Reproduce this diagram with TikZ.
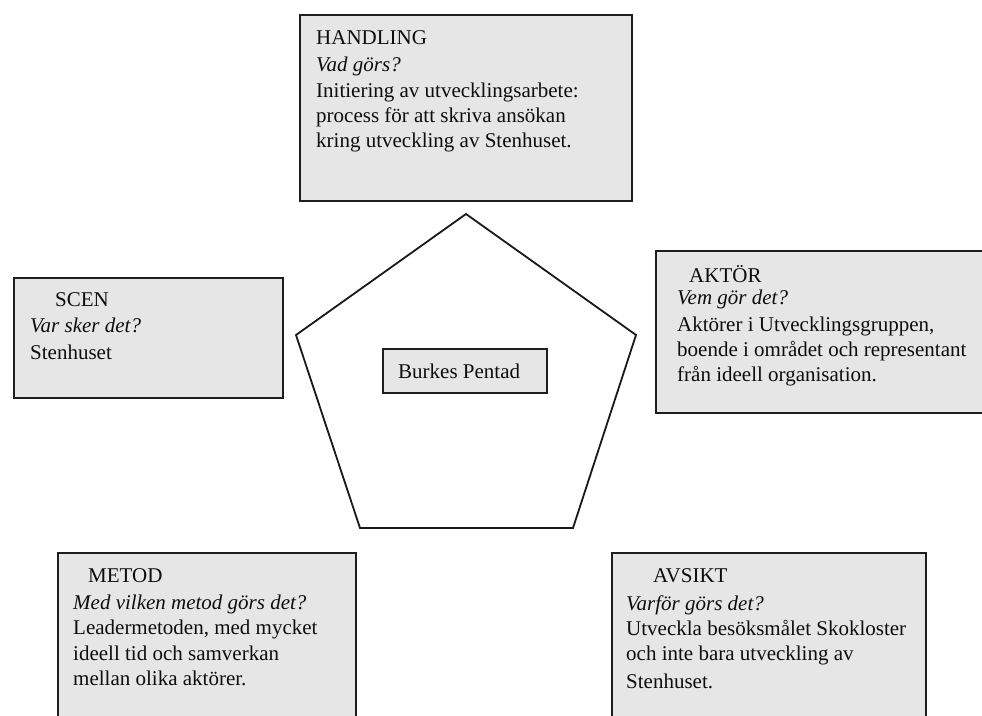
\documentclass[tikz,border=0pt]{standalone}
\usepackage{fontspec}
\setmainfont{Liberation Serif}
\definecolor{boxfill}{RGB}{230,230,230}
\definecolor{boxline}{RGB}{30,30,30}
\begin{document}
\begin{tikzpicture}[x=1pt,y=1pt,
  box/.style={draw=boxline,fill=boxfill,line width=1.8pt,inner sep=0pt,anchor=north west},
  txt/.style={anchor=base west,inner sep=0pt,font=\fontsize{21}{25}\selectfont,text=black!95},
  itx/.style={txt,font=\fontsize{21}{25}\selectfont\itshape}]
\useasboundingbox (0,0) rectangle (982,715);
\clip (0,0) rectangle (982,715);
\fill[white] (0,0) rectangle (982,715);
% boxes
\node[box,minimum width=332pt,minimum height=186pt] (handling) at (299,701) {};
\node[box,minimum width=269pt,minimum height=120pt] (scen) at (13,438) {};
\node[box,minimum width=340pt,minimum height=162pt] (aktor) at (655,465) {};
\node[box,minimum width=298pt,minimum height=180pt] (metod) at (57,163) {};
\node[box,minimum width=314pt,minimum height=180pt] (avsikt) at (611,163) {};
% pentagon
\coordinate (p1) at (466,501);
\coordinate (p2) at (636,380);
\coordinate (p3) at (573,187);
\coordinate (p4) at (360,187);
\coordinate (p5) at (296,380);
\draw[line width=1.8pt,draw=black!90,line join=miter] (p1) -- (p2) -- (p3) -- (p4) -- (p5) -- cycle;
\node[box,minimum width=164pt,minimum height=44pt] (burke) at (382,367) {};
\node[txt] (burketxt) at (398,336) {Burkes Pentad};
% HANDLING
\node[txt] (h1) at (316,670) {HANDLING};
\node[itx] (h2) at (316,643) {Vad görs?};
\node[txt] (h3) at (316,617) {Initiering av utvecklingsarbete:};
\node[txt] (h4) at (316,592) {process för att skriva ansökan};
\node[txt] (h5) at (316,567) {kring utveckling av Stenhuset.};
% SCEN
\node[txt] (s1) at (55,408) {SCEN};
\node[itx] (s2) at (30,382) {Var sker det?};
\node[txt] (s3) at (30,355) {Stenhuset};
% AKTOR
\node[txt] (a1) at (689,432) {AKTÖR};
\node[itx] (a2) at (677,410) {Vem gör det?};
\node[txt] (a3) at (677,383) {Aktörer i Utvecklingsgruppen,};
\node[txt] (a4) at (677,358) {boende i området och representant};
\node[txt] (a5) at (677,333) {från ideell organisation.};
% METOD
\node[txt] (m1) at (88,133) {METOD};
\node[itx] (m2) at (73,106) {Med vilken metod görs det?};
\node[txt] (m3) at (73,81) {Leadermetoden, med mycket};
\node[txt] (m4) at (73,55) {ideell tid och samverkan};
\node[txt] (m5) at (73,30) {mellan olika aktörer.};
% AVSIKT
\node[txt] (v1) at (653,132) {AVSIKT};
\node[itx] (v2) at (626,105) {Varför görs det?};
\node[txt] (v3) at (626,80) {Utveckla besöksmålet Skokloster};
\node[txt] (v4) at (626,55) {och inte bara utveckling av};
\node[txt] (v5) at (626,27) {Stenhuset.};
\end{tikzpicture}
\end{document}
